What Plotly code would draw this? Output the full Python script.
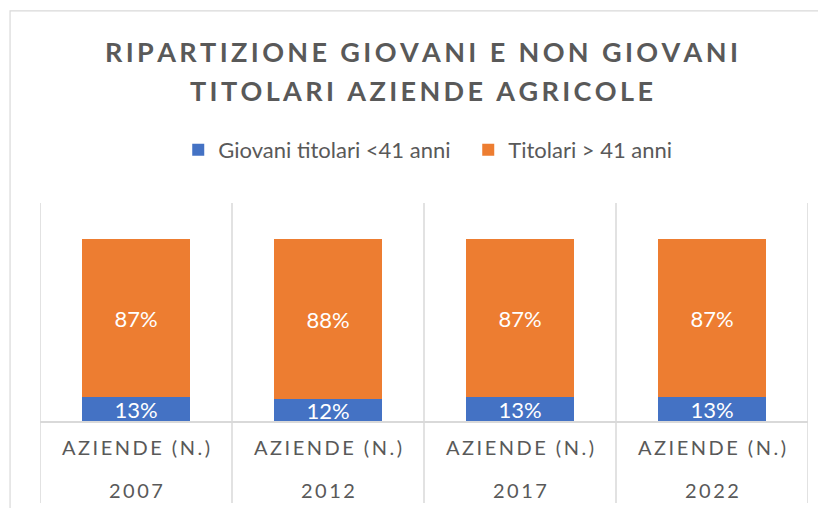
import plotly.graph_objects as go

# data
years = ["2007", "2012", "2017", "2022"]
group_label = "AZIENDE (N.)"
giovani = [0.13, 0.12, 0.13, 0.13]
non_giovani = [0.87, 0.88, 0.87, 0.87]
series_names = ["Giovani titolari <41 anni", "Titolari > 41 anni"]
title_lines = ["RIPARTIZIONE GIOVANI E NON GIOVANI", "TITOLARI AZIENDE AGRICOLE"]

BLUE = "#4472C4"
ORANGE = "#ED7D31"
GREY_TXT = "#595959"
GRID = "#D9D9D9"
FONT = "Lato, sans-serif"


def spaced(s, sep="\u2009"):
    """Fake letter spacing (plotly has no letter-spacing option)."""
    return sep.join(s)


fig = go.Figure()
for vals, name, color in [(giovani, series_names[0], BLUE), (non_giovani, series_names[1], ORANGE)]:
    fig.add_trace(go.Bar(
        x=years, y=vals, name=name,
        marker=dict(color=color, line=dict(width=0)),
        text=[f"{v:.0%}" for v in vals],
        textposition="inside", insidetextanchor="middle",
        textfont=dict(color="white", size=22, family=FONT),
        width=0.5625,
    ))

# category separators, drawn from the plot top down through the label area
for i in range(len(years) + 1):
    fig.add_shape(type="line", xref="x", yref="paper",
                  x0=i - 0.5, x1=i - 0.5, y0=1, y1=-0.376,
                  line=dict(color=GRID, width=1.5))

# outer chart border (only top/left visible in the crop)
fig.add_shape(type="rect", xref="paper", yref="paper",
              x0=-0.039, x1=1.2, y0=-0.6, y1=1.881,
              line=dict(color=GRID, width=1.2), layer="below")

# title, one annotation per line
for txt, ypos in zip(title_lines, [1.693, 1.518]):
    fig.add_annotation(
        text=spaced(txt), xref="paper", yref="paper", x=0.497, y=ypos,
        yanchor="middle", showarrow=False,
        font=dict(size=27, color=GREY_TXT, family=FONT, weight="bold"),
    )

# second level of the category axis: the year under each group label
# (category index as x, a "2007" string would be read as a number)
for i, y in enumerate(years):
    fig.add_annotation(
        text=spaced(y), xref="x", yref="paper", x=i, y=-0.3165,
        yanchor="middle", showarrow=False,
        font=dict(size=20, color=GREY_TXT, family=FONT),
    )

# page body has an 8px margin, so the figure is 8px smaller and shifted
fig.update_layout(
    barmode="stack",
    width=818, height=500,
    margin=dict(l=32, r=18, t=195, b=87),
    paper_bgcolor="white", plot_bgcolor="white",
    uniformtext=dict(minsize=22, mode="show"),
    font=dict(family=FONT, color=GREY_TXT),
    legend=dict(orientation="h", x=0.18, xanchor="left", y=1.243, yanchor="middle",
                entrywidth=245, font=dict(size=22, color=GREY_TXT, family=FONT),
                traceorder="normal"),
    showlegend=True,
)
fig.update_xaxes(
    type="category", range=[-0.5, len(years) - 0.5],
    tickvals=years, ticktext=[spaced(group_label)] * len(years), automargin=False,
    showgrid=False, showline=True, linecolor=GRID, linewidth=1.5,
    tickfont=dict(size=20, color=GREY_TXT, family=FONT),
    ticks="", ticklabelstandoff=8,
)
fig.update_yaxes(range=[0, 1.2], visible=False, showgrid=False, automargin=False)

fig.write_html("out.html")
